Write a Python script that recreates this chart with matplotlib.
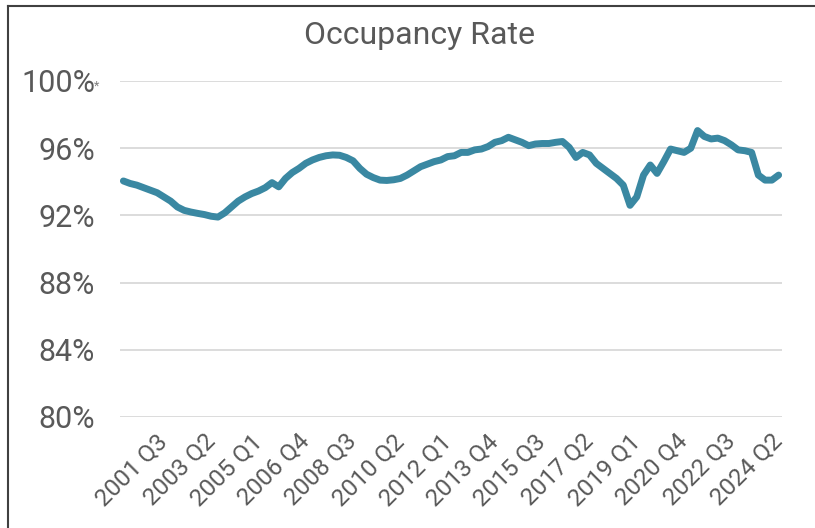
import matplotlib
matplotlib.use("Agg")
import matplotlib.pyplot as plt
from matplotlib.lines import Line2D

# Quarterly categories 2000 Q1 .. 2024 Q2
quarters = [f"{y} Q{q}" for y in range(2000, 2025) for q in range(1, 5)][:98]

occupancy = [
    94.05, 93.90, 93.80, 93.65, 93.50, 93.35, 93.10, 92.85, 92.50, 92.30,
    92.20, 92.12, 92.05, 91.95, 91.90, 92.15, 92.50, 92.85, 93.10, 93.30,
    93.45, 93.65, 93.95, 93.70, 94.20, 94.55, 94.80, 95.10, 95.30, 95.45,
    95.55, 95.60, 95.58, 95.45, 95.25, 94.80, 94.45, 94.25, 94.10, 94.08,
    94.12, 94.20, 94.40, 94.65, 94.90, 95.05, 95.20, 95.30, 95.50, 95.55,
    95.75, 95.75, 95.90, 95.95, 96.10, 96.35, 96.45, 96.65, 96.50, 96.35,
    96.15, 96.25, 96.28, 96.28, 96.35, 96.40, 96.05, 95.45, 95.75, 95.60,
    95.10, 94.80, 94.50, 94.20, 93.80, 92.60, 93.10, 94.40, 95.00, 94.50,
    95.20, 95.95, 95.85, 95.75, 96.00, 97.05, 96.70, 96.55, 96.60, 96.45,
    96.20, 95.90, 95.85, 95.75, 94.40, 94.10, 94.10, 94.40,
]

tick_labels = ["2001 Q3", "2003 Q2", "2005 Q1", "2006 Q4", "2008 Q3",
               "2010 Q2", "2012 Q1", "2013 Q4", "2015 Q3", "2017 Q2",
               "2019 Q1", "2020 Q4", "2022 Q3", "2024 Q2"]
y_ticks = [80, 84, 88, 92, 96, 100]
y_tick_labels = ["80%", "84%", "88%", "92%", "96%", "100%"]

plt.rcParams["font.family"] = ["Roboto", "DejaVu Sans"]
text_color = "#595959"
line_color = "#3A88A2"

fig = plt.figure(figsize=(8.15, 5.28), dpi=100)
ax = fig.add_axes([120 / 815, 111 / 528, 662 / 815, 336 / 528])

x = list(range(len(occupancy)))
ax.plot(x, occupancy, color=line_color, lw=5.0, solid_joinstyle="round",
        solid_capstyle="round", zorder=3)

ax.set_xlim(-0.5, len(occupancy) - 0.5)
ax.set_ylim(80, 100)
ax.set_yticks(y_ticks)
ax.set_yticklabels(y_tick_labels)
ax.yaxis.grid(True, color="#D9D9D9", lw=1.3)
ax.set_axisbelow(True)

ax.set_xticks([quarters.index(t) for t in tick_labels])
ax.set_xticklabels(tick_labels, rotation=45, ha="right", va="center",
                   rotation_mode="anchor")
ax.tick_params(axis="x", length=0, pad=15, labelsize=17.5, labelcolor=text_color)
ax.tick_params(axis="y", length=0, pad=18, labelsize=22, labelcolor=text_color)
for s in ax.spines.values():
    s.set_visible(False)

fig.text(419 / 815, 1 - 35 / 528, "Occupancy Rate", ha="center", va="center",
         fontsize=23, color=text_color)
fig.text(94 / 815, 1 - 86 / 528, "*", ha="left", va="center",
         fontsize=9, color="#7f7f7f")

# outer frame (left and top edges)
fig.add_artist(Line2D([8 / 815, 8 / 815], [0, 1 - 6 / 528],
                      transform=fig.transFigure, color="#404040", lw=1.5))
fig.add_artist(Line2D([8 / 815, 1], [1 - 6 / 528, 1 - 6 / 528],
                      transform=fig.transFigure, color="#404040", lw=1.5))

fig.savefig("out.png", dpi=100)
